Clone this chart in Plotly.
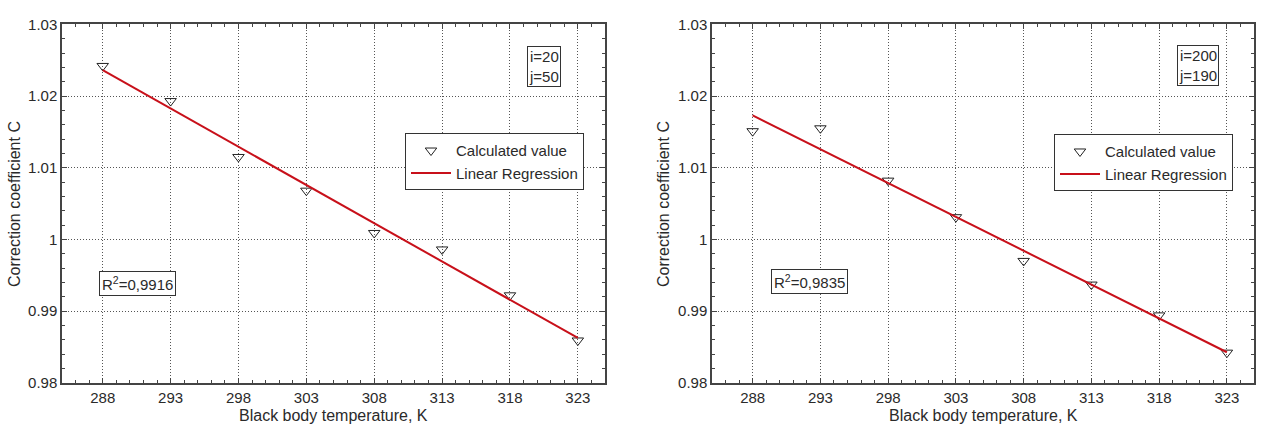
import numpy as np
import plotly.graph_objects as go

# ---- data ----
temperature_K = [288, 293, 298, 303, 308, 313, 318, 323]
coef_left = [1.0242, 1.0193, 1.0115, 1.0068, 1.0009, 0.9986, 0.9922, 0.9859]   # i=20, j=50
coef_right = [1.0151, 1.0155, 1.0082, 1.0031, 0.9970, 0.9937, 0.9894, 0.9842]  # i=200, j=190
r2_labels = ["R<sup>2</sup>=0,9916", "R<sup>2</sup>=0,9835"]
ij_labels = ["i=20<br>j=50", "i=200<br>j=190"]
x_ticks = [288, 293, 298, 303, 308, 313, 318, 323]
y_ticks = [0.98, 0.99, 1.00, 1.01, 1.02, 1.03]
y_ticktext = ["0.98", "0.99", "1", "1.01", "1.02", "1.03"]

FONT = "Liberation Sans, Arial, sans-serif"
TXT = "#2a2a2a"
AX = "#444444"
RED = "#c8101a"

W, H = 1262, 434
fig = go.Figure()

def px_x(p):
    return p / W

def px_y(p):
    return 1 - p / H

panels = [
    dict(data=coef_left, xa="x", ya="y", legend="legend",
         xdom=[px_x(62), px_x(605)], ydom=[px_y(389), px_y(16)]),
    dict(data=coef_right, xa="x2", ya="y2", legend="legend2",
         xdom=[px_x(712), px_x(1254)], ydom=[px_y(389), px_y(16)]),
]

for k, p in enumerate(panels):
    y = np.array(p["data"])
    x = np.array(temperature_K, dtype=float)
    slope, intercept = np.polyfit(x, y, 1)
    fit = slope * x + intercept
    fig.add_trace(go.Scatter(
        x=temperature_K, y=p["data"], mode="markers", name="Calculated value",
        marker=dict(symbol="triangle-down-open", size=10, color="#222222",
                    line=dict(width=1, color="#222222")),
        xaxis=p["xa"], yaxis=p["ya"], legend=p["legend"]))
    fig.add_trace(go.Scatter(
        x=temperature_K, y=fit.tolist(), mode="lines", name="Linear Regression",
        line=dict(color=RED, width=2),
        xaxis=p["xa"], yaxis=p["ya"], legend=p["legend"]))

axis_common = dict(
    showline=True, linecolor=AX, linewidth=1.5, mirror="ticks",
    ticks="inside", ticklen=5, tickcolor=AX, tickwidth=1,
    showgrid=True, gridcolor="#555555", griddash="1px,2px", gridwidth=1,
    zeroline=False, tickfont=dict(family=FONT, size=15, color=TXT),
)

layout_axes = {}
for k, p in enumerate(panels):
    sx = "" if k == 0 else "2"
    layout_axes["xaxis" + sx] = dict(
        axis_common, domain=p["xdom"], range=[285, 325], anchor="y" + sx,
        tickvals=x_ticks, ticktext=[str(v) for v in x_ticks],
        minor=dict(dtick=1, tick0=285, ticks="inside", ticklen=3, tickcolor=AX, showgrid=False))
    layout_axes["yaxis" + sx] = dict(
        axis_common, domain=p["ydom"], range=[0.98, 1.03], anchor="x" + sx,
        tickvals=y_ticks, ticktext=y_ticktext,
        minor=dict(dtick=0.002, tick0=0.98, ticks="inside", ticklen=3, tickcolor=AX, showgrid=False))

legend_common = dict(
    bgcolor="white", bordercolor="#333333", borderwidth=1,
    font=dict(family=FONT, size=15, color=TXT),
    xanchor="left", yanchor="middle", tracegroupgap=0, itemwidth=40,
)

annotations = []
box_pos = [
    dict(ij=(543.5, 59.5), r2=(137, 285.5), ytitle=14, xtitle=333),
    dict(ij=(1197.5, 59), r2=(809.5, 284), ytitle=663, xtitle=983),
]
for k, b in enumerate(box_pos):
    annotations.append(dict(
        text=ij_labels[k], x=px_x(b["ij"][0]), y=px_y(b["ij"][1]),
        xref="paper", yref="paper", showarrow=False, align="left",
        xanchor="center", yanchor="middle",
        bordercolor="#333333", borderwidth=1, borderpad=1, bgcolor="white",
        font=dict(family=FONT, size=15, color=TXT)))
    annotations.append(dict(
        text=r2_labels[k], x=px_x(b["r2"][0]), y=px_y(b["r2"][1]),
        xref="paper", yref="paper", showarrow=False, align="left",
        xanchor="center", yanchor="middle",
        bordercolor="#333333", borderwidth=1, borderpad=2, bgcolor="white",
        font=dict(family=FONT, size=15, color=TXT)))
    annotations.append(dict(
        text="Correction coefficient C", x=px_x(b["ytitle"]), y=px_y(203),
        xref="paper", yref="paper", showarrow=False, textangle=-90,
        xanchor="center", yanchor="middle",
        font=dict(family=FONT, size=16, color=TXT)))
    annotations.append(dict(
        text="Black body temperature, K", x=px_x(b["xtitle"]), y=px_y(423),
        xref="paper", yref="paper", showarrow=False,
        xanchor="center", yanchor="middle",
        font=dict(family=FONT, size=16, color=TXT)))

fig.update_layout(
    width=W, height=H,
    margin=dict(l=0, r=0, t=0, b=0),
    paper_bgcolor="white", plot_bgcolor="white",
    font=dict(family=FONT, size=15, color=TXT),
    legend=dict(legend_common, x=px_x(405), y=px_y(159)),
    legend2=dict(legend_common, x=px_x(1054), y=px_y(160)),
    annotations=annotations,
    **layout_axes,
)

fig.write_html("out.html")
